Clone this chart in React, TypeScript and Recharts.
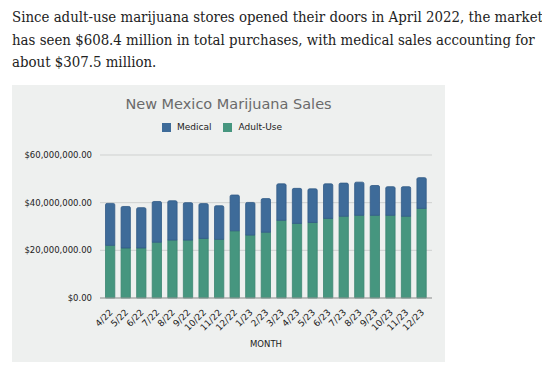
import React from 'react';
import { BarChart, Bar, XAxis, YAxis, CartesianGrid, Legend } from 'recharts';

const months = ['4/22', '5/22', '6/22', '7/22', '8/22', '9/22', '10/22', '11/22', '12/22', '1/23', '2/23', '3/23', '4/23', '5/23', '6/23', '7/23', '8/23', '9/23', '10/23', '11/23', '12/23'];
const adultUse = [22.1, 21.0, 21.0, 23.4, 24.3, 24.3, 25.0, 24.6, 28.2, 26.4, 27.6, 32.6, 31.3, 31.7, 33.4, 34.3, 34.7, 34.7, 34.7, 34.3, 37.6];
const totals = [39.7, 38.4, 37.9, 40.5, 40.8, 40.0, 39.6, 38.7, 43.2, 40.1, 41.7, 47.9, 46.0, 45.8, 47.9, 48.2, 48.6, 47.2, 46.7, 46.7, 50.5];
const yTicks = [0, 20000000, 40000000, 60000000];

const legendItems = [
    { name: 'Medical', color: '#3e6b99' },
    { name: 'Adult-Use', color: '#46967f' },
];

const data = months.map((month, i) => ({
    month,
    adult: adultUse[i] * 1000000,
    medical: (totals[i] - adultUse[i]) * 1000000,
}));

const fmtMoney = (v: number) =>
    '$' + v.toLocaleString('en-US', { minimumFractionDigits: 2, maximumFractionDigits: 2 });

const MonthTick = (props: any) => {
    const { x, y, payload } = props;
    return (
        <text
            x={x + 3}
            y={y + 7}
            transform={`rotate(-45, ${x + 3}, ${y + 7})`}
            textAnchor="end"
            fontSize={9}
            fill="#222"
            fontFamily="DejaVu Sans"
        >
            {payload.value}
        </text>
    );
};

const renderLegend = () => (
    <div style={{ display: 'flex', justifyContent: 'center', gap: 12, fontSize: 9, color: '#222', fontFamily: 'DejaVu Sans' }}>
        {legendItems.map(item => (
            <span key={item.name} style={{ display: 'flex', alignItems: 'center' }}>
                <span style={{ width: 9, height: 9, background: item.color, marginRight: 6, display: 'inline-block' }} />
                {item.name}
            </span>
        ))}
    </div>
);

const App = () => {
    return (
        <div style={{ position: 'relative', width: 534, height: 363 }}>
            <div style={{ position: 'absolute', left: 4, top: -2, fontFamily: '"DejaVu Serif Condensed", "DejaVu Serif"', fontSize: 14.85, lineHeight: '22.6px', color: '#222', whiteSpace: 'nowrap' }}>
                <div>Since adult-use marijuana stores opened their doors in April 2022, the market</div>
                <div>has seen $608.4 million in total purchases, with medical sales accounting for</div>
                <div>about $307.5 million.</div>
            </div>
            <div style={{ position: 'absolute', left: 4, top: 77, width: 433, height: 277, background: '#eef0ef' }}>
                <div style={{ position: 'absolute', left: 0, width: 433, top: 11, textAlign: 'center', fontFamily: 'DejaVu Sans', fontSize: 14.5, color: '#6a6a6a' }}>
                    New Mexico Marijuana Sales
                </div>
                <BarChart width={433} height={277} data={data} margin={{ top: 60, right: 13, bottom: 0, left: 0 }}>
                    <CartesianGrid vertical={false} stroke="#cfd1d0" />
                    <XAxis
                        dataKey="month"
                        height={64}
                        interval={0}
                        tickLine={false}
                        axisLine={{ stroke: '#999' }}
                        tick={<MonthTick />}
                        padding={{ left: 2.5, right: 2.5 }}
                        label={{ value: 'MONTH', position: 'insideBottom', offset: 15, fontSize: 8.5, fill: '#222', fontFamily: 'DejaVu Sans' }}
                    />
                    <YAxis
                        width={88}
                        domain={[0, 60000000]}
                        ticks={yTicks}
                        tickFormatter={fmtMoney}
                        axisLine={false}
                        tickLine={false}
                        tick={{ fontSize: 8.5, fill: '#222', fontFamily: 'DejaVu Sans' }}
                    />
                    <Legend verticalAlign="top" content={renderLegend} wrapperStyle={{ top: 37 }} />
                    <Bar dataKey="adult" name="Adult-Use" stackId="a" fill="#46967f" stroke="#3b8571" strokeWidth={0.8} barSize={9.3} isAnimationActive={false} />
                    <Bar dataKey="medical" name="Medical" stackId="a" fill="#3e6b99" stroke="#315b86" strokeWidth={0.8} barSize={9.3} radius={[1.5, 1.5, 0, 0]} isAnimationActive={false} />
                </BarChart>
            </div>
        </div>
    );
};

export default App;
